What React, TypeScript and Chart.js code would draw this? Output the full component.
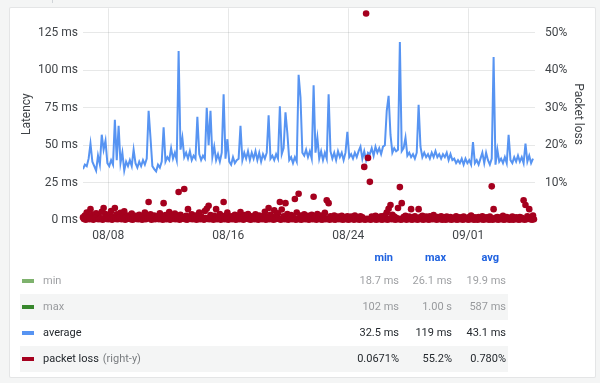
import React, { useEffect, useRef } from "react";
import { Chart, registerables } from "chart.js";

Chart.register(...registerables);

// time axis: values are days after 08/01 00:00
const startDay = 5.3125;
const stepDays = 0.125;
const xAxisMin = 5.313;
const xAxisMax = 35.447;
const xTickValues = [7, 15, 23, 31];
const xTickLabels = ["08/08", "08/16", "08/24", "09/01"];
const latencyTicks = [0, 25, 50, 75, 100, 125];
const lossTicks = [10, 20, 30, 40, 50];
const latencyAxisMax = 141.5;
const lossAxisMax = 56.6;

// average latency (ms), one value every 3 hours
const latencyAvg = [
  34, 37, 36, 41, 51, 39, 36, 33, 43, 37,
  57, 47, 53, 38, 36, 40, 37, 67, 40, 63,
  38, 45, 33, 39, 36, 40, 36, 47, 38, 35,
  39, 36, 40, 37, 41, 73, 55, 36, 34, 32.5,
  37, 35, 39, 62, 39, 42, 40, 48, 41, 45,
  40, 113, 47, 55, 42, 45, 41, 46, 40, 43,
  41, 69, 44, 40, 43, 41, 75, 50, 73, 42,
  49, 40, 44, 39, 45, 84, 41, 54, 39, 37,
  42, 38, 40, 41, 63, 40, 45, 41, 46, 40,
  45, 41, 46, 40, 45, 39, 44, 41, 45, 70,
  41, 43, 40, 44, 41, 76, 44, 48, 72, 58,
  40, 42, 38, 42, 39, 97, 82, 45, 43, 47,
  42, 46, 41, 90, 45, 55, 41, 46, 40, 45,
  41, 84, 46, 41, 45, 40, 46, 42, 45, 40,
  45, 59, 42, 44, 41, 45, 42, 46, 49, 41,
  46, 40, 45, 44, 48, 43, 49, 45, 48, 44,
  49, 50, 73, 83, 57, 45, 48, 46, 47, 119,
  46, 48, 55, 43, 45, 42, 44, 41, 45, 77,
  49, 42, 45, 42, 44, 41, 45, 42, 46, 42,
  44, 41, 44, 42, 45, 40, 44, 40, 41, 38,
  40, 38, 41, 37, 41, 38, 40, 37, 52, 38,
  40, 37, 41, 45, 38, 45, 40, 37, 41, 109,
  37, 47, 39, 41, 38, 42, 38, 57, 40, 38,
  42, 39, 43, 39, 42, 38, 51, 39, 43, 38,
  41,
];

// packet loss (%), same sampling
const packetLoss = [
  0.7, 1.2, 2.0, 1.0, 2.9, 1.4, 0.6, 1.8, 1.1, 0.5,
  2.2, 3.2, 1.6, 0.8, 1.3, 2.4, 0.9, 3.2, 1.5, 0.7,
  1.9, 1.0, 2.3, 0.6, 1.2, 0.8, 1.7, 0.5, 1.1, 0.9,
  1.4, 0.6, 1.0, 2.0, 0.7, 4.8, 1.5, 0.8, 1.2, 0.6,
  1.0, 1.8, 0.7, 4.5, 1.3, 0.9, 2.1, 0.6, 1.2, 1.7,
  0.8, 7.5, 1.4, 0.7, 8.3, 1.1, 2.9, 0.9, 1.5, 0.6,
  1.2, 0.8, 2.0, 1.0, 0.5, 2.4, 3.0, 3.8, 1.3, 0.7,
  1.1, 2.9, 0.8, 1.6, 0.9, 4.8, 1.2, 2.0, 0.6, 1.0,
  0.8, 1.4, 0.5, 1.1, 2.1, 0.7, 1.3, 0.9, 1.6, 0.6,
  1.0, 0.8, 1.5, 0.7, 1.2, 0.5, 1.0, 2.2, 0.9, 3.2,
  1.4, 0.8, 2.6, 1.1, 1.8, 4.8, 2.8, 1.0, 4.5, 1.6,
  0.9, 1.3, 0.7, 5.6, 2.0, 7.0, 1.2, 0.8, 1.5, 0.6,
  1.1, 0.9, 1.4, 6.2, 1.0, 1.6, 0.7, 1.2, 0.8, 1.9,
  5.3, 4.5, 1.0, 0.7, 1.2, 0.6, 0.9, 0.5, 1.1, 0.8,
  0.6, 1.0, 0.7, 0.9, 0.5, 1.2, 0.8, 0.6, 1.0, 0.7,
  14.2, 55.2, 16.6, 10.2, 0.9, 0.6, 1.1, 0.8, 0.5, 1.0,
  0.7, 1.2, 2.0, 3.0, 4.0, 1.4, 0.9, 0.6, 3.2, 8.8,
  4.5, 0.8, 1.1, 0.6, 0.9, 2.9, 0.7, 1.0, 0.5, 2.9,
  0.8, 1.1, 0.6, 0.9, 0.4, 1.0, 0.7, 1.3, 0.5, 0.8,
  0.6, 1.0, 0.4, 0.7, 0.9, 0.5, 0.8, 0.3, 0.6, 1.0,
  0.5, 0.7, 0.4, 0.9, 0.6, 0.3, 0.8, 1.2, 0.5, 0.7,
  0.4, 0.8, 0.6, 1.0, 0.5, 0.7, 0.4, 0.9, 9.0, 2.9,
  0.6, 0.8, 0.4, 0.7, 1.1, 0.5, 0.8, 0.3, 0.6, 0.9,
  0.5, 0.7, 0.4, 0.8, 0.6, 5.3, 4.0, 1.0, 2.9, 0.7,
  1.2,
];

// packet loss (%), samples between the ones above (half a step later)
const packetLossMid = [
  0.3, 0.1, 0.5, 0.2, 0.4, 0.1, 0.6, 0.3, 0.2, 0.4,
  0.1, 0.5, 0.3, 0.2, 0.6, 0.1, 0.4, 0.3, 0.2, 0.5,
  0.2, 0.4, 0.1, 0.3, 0.5, 0.2, 0.1, 0.4, 0.3, 0.2,
  0.5, 0.1, 0.3, 0.2, 0.4, 0.6, 0.1, 0.3, 0.2, 0.4,
  0.2, 0.5, 0.1, 0.3, 0.2, 0.4, 0.1, 0.6, 0.3, 0.2,
  0.4, 0.1, 0.3, 0.5, 0.2, 0.1, 0.4, 0.3, 0.2, 0.5,
  0.1, 0.3, 0.2, 0.4, 0.1, 0.5, 0.3, 0.2, 0.4, 0.1,
  0.3, 0.2, 0.5, 0.1, 0.4, 0.2, 0.3, 0.1, 0.5, 0.2,
  0.4, 0.1, 0.3, 0.2, 0.6, 0.1, 0.3, 0.4, 0.2, 0.1,
  0.5, 0.2, 0.3, 0.1, 0.4, 0.2, 0.5, 0.1, 0.3, 0.2,
  0.4, 0.1, 0.2, 0.5, 0.3, 0.1, 0.4, 0.2, 0.3, 0.1,
  0.5, 0.2, 0.4, 0.1, 0.3, 0.2, 0.1, 0.4, 0.2, 0.3,
  0.1, 0.5, 0.2, 0.3, 0.1, 0.4, 0.2, 0.1, 0.3, 0.2,
  0.4, 0.1, 0.3, 0.2, 0.1, 0.4, 0.2, 0.3, 0.1, 0.2,
  0.3, 0.1, 0.2, 0.4, 0.1, 0.3, 0.2, 0.1, 0.3, 0.2,
  0.1, 0.3, 0.2, 0.1, 0.4, 0.2, 0.1, 0.3, 0.2, 0.1,
  0.3, 0.2, 0.1, 0.4, 0.2, 0.3, 0.1, 0.2, 0.3, 0.1,
  0.2, 0.4, 0.1, 0.3, 0.2, 0.1, 0.3, 0.2, 0.1, 0.4,
  0.2, 0.1, 0.3, 0.2, 0.1, 0.3, 0.2, 0.4, 0.1, 0.2,
  0.3, 0.1, 0.2, 0.1, 0.3, 0.2, 0.1, 0.3, 0.2, 0.1,
  0.2, 0.3, 0.1, 0.2, 0.4, 0.1, 0.2, 0.3, 0.1, 0.2,
  0.1, 0.3, 0.2, 0.1, 0.2, 0.3, 0.1, 0.2, 0.1, 0.3,
  0.2, 0.1, 0.3, 0.2, 0.1, 0.2, 0.3, 0.1, 0.2, 0.1,
  0.3, 0.2, 0.1, 0.2, 0.3, 0.1, 0.2, 0.4, 0.2, 0.1,
  0.2,
];

// legend table
const legendHeaders = ["min", "max", "avg"];
const legendNames = ["min", "max", "average", "packet loss"];
const legendSuffix = ["", "", "", "(right-y)"];
const legendColors = ["#7EB26D", "#37872D", "#5794F2", "#A5001E"];
const legendHidden = [true, true, false, false];
const legendMin = ["18.7 ms", "102 ms", "32.5 ms", "0.0671%"];
const legendMax = ["26.1 ms", "1.00 s", "119 ms", "55.2%"];
const legendAvg = ["19.9 ms", "587 ms", "43.1 ms", "0.780%"];

const BLUE = "#5794F2";
const RED = "#A5001E";
const TEXT = "rgba(36,41,46,0.88)";
const GRID = "rgba(36,41,46,0.11)";

export default function App() {
  const ref = useRef<HTMLCanvasElement>(null);

  useEffect(() => {
    document.body.style.margin = "0";
    document.body.style.background = "#f4f5f5";
    Chart.defaults.font.family = "Roboto";
    const latencyData = latencyAvg.map((v, i) => ({ x: startDay + i * stepDays, y: v }));
    const lossData = packetLoss
      .map((v, i) => ({ x: startDay + i * stepDays, y: v }))
      .concat(packetLossMid.map((v, i) => ({ x: startDay + (i + 0.5) * stepDays, y: v })));
    const chart = new Chart(ref.current!, {
      type: "line",
      data: {
        datasets: [
          {
            label: "packet loss",
            data: lossData,
            yAxisID: "yR",
            showLine: false,
            pointRadius: 3.3,
            pointHoverRadius: 3.3,
            pointBorderWidth: 0,
            pointBackgroundColor: RED,
            borderColor: RED,
            backgroundColor: RED,
            clip: false as any,
            order: 0,
          },
          {
            label: "average",
            data: latencyData,
            yAxisID: "yL",
            borderColor: BLUE,
            backgroundColor: BLUE,
            borderWidth: 2,
            pointRadius: 0,
            tension: 0,
            fill: false,
            order: 1,
          },
        ],
      },
      options: {
        animation: false,
        responsive: false,
        maintainAspectRatio: false,
        layout: { padding: 0 },
        plugins: { legend: { display: false }, tooltip: { enabled: false } },
        scales: {
          x: {
            type: "linear",
            min: xAxisMin,
            max: xAxisMax,
            afterBuildTicks: (s: any) => {
              s.ticks = xTickValues.map((v) => ({ value: v }));
            },
            ticks: {
              callback: (v: any) => xTickLabels[xTickValues.indexOf(Number(v))] ?? "",
              padding: 9,
              color: TEXT,
              font: { size: 12 },
              maxRotation: 0,
              autoSkip: false,
            },
            grid: { color: GRID, drawTicks: false },
            border: { display: false },
            afterFit: (s: any) => {
              s.height = 28;
              s.paddingLeft = 0;
              s.paddingRight = 0;
            },
          },
          yL: {
            type: "linear",
            position: "left",
            min: 0,
            max: latencyAxisMax,
            afterBuildTicks: (s: any) => {
              s.ticks = latencyTicks.map((v) => ({ value: v }));
            },
            ticks: {
              callback: (v: any) => v + " ms",
              padding: 5,
              color: TEXT,
              font: { size: 12 },
            },
            grid: { color: GRID, drawTicks: false },
            border: { display: false },
            title: {
              display: true,
              text: "Latency",
              color: TEXT,
              font: { size: 12 },
              padding: { top: 10, bottom: 0 },
            },
            afterFit: (s: any) => {
              s.width = 73;
              s.paddingTop = 0;
              s.paddingBottom = 0;
            },
          },
          yR: {
            type: "linear",
            position: "right",
            min: 0,
            max: lossAxisMax,
            afterBuildTicks: (s: any) => {
              s.ticks = lossTicks.map((v) => ({ value: v }));
            },
            ticks: {
              callback: (v: any) => v + "%",
              padding: 10,
              color: TEXT,
              font: { size: 12 },
            },
            grid: { drawOnChartArea: false, drawTicks: false },
            border: { display: false },
            title: {
              display: true,
              text: "Packet loss",
              color: TEXT,
              font: { size: 12 },
              padding: { top: 10, bottom: 0 },
            },
            afterFit: (s: any) => {
              s.width = 60;
              s.paddingTop = 0;
              s.paddingBottom = 0;
            },
          },
        },
      },
    } as any);
    return () => chart.destroy();
  }, []);

  const valueRights = [399, 452, 506];
  const headerRights = [393, 446, 499];

  return (
    <div
      style={{
        position: "relative",
        width: 600,
        height: 383,
        background: "#f4f5f5",
        fontFamily: "Roboto, sans-serif",
        overflow: "hidden",
      }}
    >
      <div style={{ position: "absolute", left: 52, top: 0, width: 1, height: 3, background: "#d0d4d8" }} />
      <div
        style={{
          position: "absolute",
          left: 9,
          top: 7,
          width: 587,
          height: 371,
          background: "#fff",
          border: "1px solid rgba(36,41,46,0.12)",
          borderRadius: 2,
          boxSizing: "border-box",
        }}
      />
      <canvas
        ref={ref}
        width={585}
        height={243}
        style={{ position: "absolute", left: 10, top: 5, width: 585, height: 243 }}
      />
      {legendHeaders.map((h, j) => (
        <div
          key={"h" + j}
          style={{
            position: "absolute",
            left: headerRights[j] - 60,
            width: 60,
            top: 246,
            height: 24,
            lineHeight: "24px",
            textAlign: "right",
            fontSize: 11,
            fontWeight: 700,
            color: "#1F62E0",
          }}
        >
          {h}
        </div>
      ))}
      {legendNames.map((name, i) => {
        const top = 268 + 26 * i;
        const color = legendHidden[i] ? "rgba(36,41,46,0.45)" : "rgba(36,41,46,1)";
        const vals = [legendMin[i], legendMax[i], legendAvg[i]];
        return (
          <React.Fragment key={name}>
            <div
              style={{
                position: "absolute",
                left: 20,
                top,
                width: 488,
                height: 26,
                background: i % 2 === 1 ? "#f4f5f5" : "transparent",
              }}
            />
            <div
              style={{
                position: "absolute",
                left: 22,
                top: top + 11,
                width: 12,
                height: 4,
                background: legendColors[i],
              }}
            />
            <div
              style={{
                position: "absolute",
                left: 43,
                top,
                height: 26,
                lineHeight: "26px",
                fontSize: 11,
                color,
                whiteSpace: "nowrap",
              }}
            >
              {name}
              {legendSuffix[i] ? (
                <span style={{ color: "rgba(36,41,46,0.6)", marginLeft: 4 }}>{legendSuffix[i]}</span>
              ) : null}
            </div>
            {vals.map((v, j) => (
              <div
                key={j}
                style={{
                  position: "absolute",
                  left: valueRights[j] - 70,
                  width: 70,
                  top,
                  height: 26,
                  lineHeight: "26px",
                  textAlign: "right",
                  fontSize: 11,
                  color,
                  whiteSpace: "nowrap",
                }}
              >
                {v}
              </div>
            ))}
          </React.Fragment>
        );
      })}
    </div>
  );
}
